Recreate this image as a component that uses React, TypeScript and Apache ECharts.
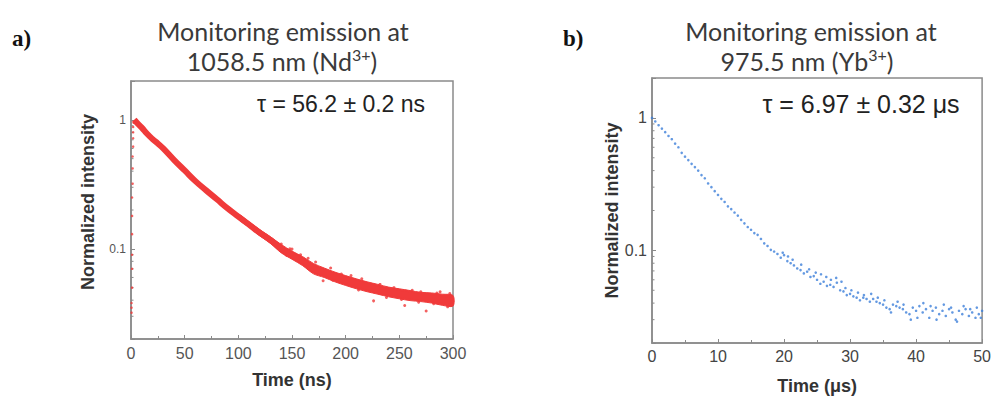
import React, { useEffect, useRef } from "react";
import * as echarts from "echarts";

// Panel a: Nd3+ decay (time in ns, normalized intensity)
const timeA = [3, 5, 10, 15, 20, 25, 30, 40, 50, 60, 70, 80, 90, 100, 110, 120, 130, 140, 150, 160, 170, 180, 190, 200, 210, 220, 230, 240, 250, 260, 270, 280, 290, 300];
const valA = [1.0, 0.96, 0.87, 0.78, 0.71, 0.655, 0.6, 0.49, 0.405, 0.335, 0.284, 0.242, 0.206, 0.178, 0.154, 0.133, 0.117, 0.1, 0.089, 0.08, 0.07, 0.0655, 0.0612, 0.0572, 0.054, 0.051, 0.048, 0.0464, 0.0449, 0.0434, 0.0423, 0.0414, 0.0404, 0.0395];
const timeEdgeA = [100, 110, 120, 130, 140, 150, 160, 170, 180, 190, 200, 210, 220, 230, 240, 250, 260, 270, 280, 290, 300];
const upperA = [0.186, 0.162, 0.141, 0.124, 0.108, 0.096, 0.087, 0.077, 0.071, 0.066, 0.062, 0.0585, 0.0555, 0.053, 0.0505, 0.049, 0.0475, 0.046, 0.0455, 0.0445, 0.0435];
const lowerA = [0.17, 0.147, 0.126, 0.11, 0.093, 0.083, 0.074, 0.064, 0.06, 0.0555, 0.052, 0.049, 0.0465, 0.0445, 0.0425, 0.041, 0.0397, 0.039, 0.038, 0.0365, 0.036];
const riseTimeA = [0.5, 0.5, 0.5, 1, 1, 1, 1, 1, 1, 1.5, 1.5, 1.5, 2, 2, 2, 2, 2.5];
const riseValA = [0.032, 0.035, 0.038, 0.05, 0.07, 0.09, 0.13, 0.18, 0.25, 0.32, 0.42, 0.52, 0.62, 0.72, 0.8, 0.88, 0.95];
const noiseTimeA = [140, 145, 148, 150, 158, 165, 168, 172, 179, 186, 188, 196, 205, 212, 215, 226, 232, 238, 245, 252, 255, 262, 268, 270, 275, 282, 285, 288, 295, 297];
const noiseValA = [0.109, 0.089, 0.1, 0.0995, 0.09, 0.0845, 0.068, 0.079, 0.0565, 0.071, 0.057, 0.0637, 0.062, 0.048, 0.0585, 0.0395, 0.053, 0.042, 0.05, 0.0405, 0.0364, 0.0478, 0.0385, 0.0465, 0.033, 0.0375, 0.0455, 0.0465, 0.0355, 0.045];

// Panel b: Yb3+ decay (time in µs)
const timeB = [0, 0.5, 1, 1.5, 2, 2.5, 3, 3.5, 4, 4.5, 5, 5.5, 6, 6.5, 7, 7.5, 8, 8.5, 9, 9.5, 10, 10.5, 11, 11.5, 12, 12.5, 13, 13.5, 14, 14.5, 15, 15.5, 16, 16.5, 17, 17.5, 18, 18.5, 19, 19.5, 20, 20.5, 21, 21.5, 22, 22.5, 23, 23.5, 24, 24.5, 25, 25.5, 26, 26.5, 27, 27.5, 28, 28.5, 29, 29.5, 30, 30.5, 31, 31.5, 32, 32.5, 33, 33.5, 34, 34.5, 35, 35.5, 36, 36.5, 37, 37.5, 38, 38.5, 39, 39.5, 40, 40.5, 41, 41.5, 42, 42.5, 43, 43.5, 44, 44.5, 45, 45.5, 46, 46.5, 47, 47.5, 48, 48.5, 49, 49.5, 50];
const valB = [1.0, 0.94, 0.88, 0.83, 0.78, 0.73, 0.69, 0.64, 0.6, 0.545, 0.51, 0.48, 0.45, 0.425, 0.4, 0.37, 0.35, 0.32, 0.3, 0.28, 0.262, 0.245, 0.232, 0.215, 0.205, 0.193, 0.183, 0.17, 0.16, 0.15, 0.143, 0.135, 0.131, 0.122, 0.113, 0.108, 0.101, 0.098, 0.094, 0.088, 0.092, 0.083, 0.08, 0.077, 0.073, 0.071, 0.067, 0.069, 0.063, 0.064, 0.06, 0.056, 0.058, 0.054, 0.055, 0.053, 0.057, 0.05, 0.049, 0.046, 0.047, 0.045, 0.044, 0.042, 0.044, 0.043, 0.041, 0.043, 0.041, 0.04, 0.039, 0.037, 0.036, 0.039, 0.038, 0.037, 0.036, 0.034, 0.033, 0.037, 0.035, 0.038, 0.034, 0.036, 0.031, 0.035, 0.037, 0.033, 0.035, 0.032, 0.036, 0.034, 0.03, 0.035, 0.033, 0.036, 0.032, 0.034, 0.031, 0.033, 0.035];
const extraTimeB = [19.8, 20.6, 21.3, 22.6, 23.8, 24.8, 25.6, 26.4, 27.1, 27.9, 28.7, 29.3, 30.2, 31.2, 32.1, 33.2, 34.2, 35.2, 36.2, 37.2, 38.1, 39.2, 40.2, 41.1, 42.2, 43.1, 44.2, 45.3, 46.2, 47.2, 48.2, 49.2, 49.8];
const extraValB = [0.096, 0.09, 0.085, 0.078, 0.072, 0.068, 0.066, 0.063, 0.06, 0.062, 0.058, 0.052, 0.05, 0.048, 0.046, 0.047, 0.044, 0.042, 0.034, 0.041, 0.039, 0.03, 0.031, 0.04, 0.038, 0.03, 0.039, 0.037, 0.029, 0.038, 0.036, 0.037, 0.031];

const yMajorLabels = ["0.1", "1"];
const yMinorValues = [0.03, 0.04, 0.05, 0.06, 0.07, 0.08, 0.09, 0.2, 0.3, 0.4, 0.5, 0.6, 0.7, 0.8, 0.9];

const zip = (xs: number[], ys: number[]) => xs.map((x, i) => [x, ys[i]]);

const RED = "#f03a3a";
const BLUE = "#3d7fd9";
const AXIS = "#8a8a8a";

const yLabelFmt = (v: number) => {
  for (const s of yMajorLabels) {
    if (Math.abs(v - parseFloat(s)) < 1e-6 * parseFloat(s)) return s;
  }
  return "";
};

export default function App() {
  const ref = useRef<HTMLDivElement>(null);
  useEffect(() => {
    if (!ref.current) return;
    const chart = echarts.init(ref.current, null, { renderer: "svg" });
    const titleStyle = {
      fontFamily: "Lato",
      fontSize: 25,
      fontWeight: "normal",
      color: "#3a3a3a",
      lineHeight: 29,
      rich: {
        sup: { fontSize: 16, verticalAlign: "top", lineHeight: 16, fontFamily: "Lato", color: "#3a3a3a" },
      },
    };
    const yAxisCommon = (gridIndex: number, labelSize: number, labelColor: string, gap: number, pad: number[]) => ({
      type: "log",
      logBase: 10,
      gridIndex,
      min: 0.02,
      max: 2,
      name: "Normalized intensity",
      nameLocation: "middle",
      nameGap: gap,
      nameTextStyle: { fontFamily: "Liberation Sans", fontWeight: "bold", fontSize: 18, color: "#333", padding: pad },
      axisLine: { show: true, lineStyle: { color: AXIS, width: 1.5 } },
      axisTick: { show: true, inside: true, length: 4, lineStyle: { color: AXIS } },
      axisLabel: { formatter: yLabelFmt, fontFamily: "Liberation Sans", fontSize: labelSize, color: labelColor, margin: 5 },
      splitLine: { show: false },
    });
    const xAxisCommon = (gridIndex: number, max: number, interval: number, name: string, gap: number, margin: number, color: string) => ({
      type: "value",
      gridIndex,
      min: 0,
      max,
      interval,
      name,
      nameLocation: "middle",
      nameGap: gap,
      nameTextStyle: { fontFamily: "Liberation Sans", fontWeight: "bold", fontSize: 18, color: "#333" },
      axisLine: { show: true, lineStyle: { color: AXIS, width: 1.5 } },
      axisTick: { show: true, inside: true, length: 4, lineStyle: { color: AXIS } },
      minorTick: { show: true, splitNumber: 2, length: 3, lineStyle: { color: AXIS } },
      axisLabel: { fontFamily: "Liberation Sans", fontSize: 16, color, margin },
      splitLine: { show: false },
      minorSplitLine: { show: false },
    });
    const option: any = {
      animation: false,
      backgroundColor: "#ffffff",
      title: [
        { text: "Monitoring emission at", left: 283, top: 16, textAlign: "center", padding: 0, textStyle: titleStyle },
        { text: "1058.5 nm (Nd{sup|3+})", left: 282, top: 46, textAlign: "center", padding: 0, textStyle: titleStyle },
        { text: "Monitoring emission at", left: 811, top: 16, textAlign: "center", padding: 0, textStyle: titleStyle },
        { text: "975.5 nm (Yb{sup|3+})", left: 807, top: 46, textAlign: "center", padding: 0, textStyle: titleStyle },
      ],
      grid: [
        { left: 131, top: 81, width: 322, height: 258, show: true, borderColor: AXIS, borderWidth: 1.5, backgroundColor: "transparent" },
        { left: 652, top: 78, width: 332, height: 269, show: true, borderColor: AXIS, borderWidth: 1.5, backgroundColor: "transparent" },
      ],
      xAxis: [
        xAxisCommon(0, 300, 50, "Time (ns)", 32, 6, "#555"),
        xAxisCommon(1, 50, 10, "Time (\u03bcs)", 34, 5, "#444"),
      ],
      yAxis: [
        yAxisCommon(0, 12, "#555", 34, [0, 0, 0, 16]),
        yAxisCommon(1, 16, "#444", 31, [0, 0, 0, 0]),
      ],
      series: [
        {
          type: "custom",
          xAxisIndex: 0,
          yAxisIndex: 0,
          silent: true,
          data: timeEdgeA.map((t, i) => [t, upperA[i], lowerA[i]]),
          encode: { x: 0, y: 1 },
          renderItem: (params: any, api: any) => {
            if (params.dataIndex !== 0) return null;
            const pts: number[][] = [];
            for (let i = 0; i < timeEdgeA.length; i++) pts.push(api.coord([timeEdgeA[i], upperA[i]]));
            for (let i = timeEdgeA.length - 1; i >= 0; i--) pts.push(api.coord([timeEdgeA[i], lowerA[i]]));
            return { type: "polygon", shape: { points: pts, smooth: 0.3 }, style: { fill: RED, stroke: RED, lineWidth: 1 } };
          },
        },
        { type: "line", xAxisIndex: 0, yAxisIndex: 0, data: zip(timeA, valA), showSymbol: false, smooth: true, lineStyle: { color: RED, width: 6 }, silent: true },
        { type: "scatter", xAxisIndex: 0, yAxisIndex: 0, data: zip(riseTimeA, riseValA), symbolSize: 2.5, itemStyle: { color: RED }, silent: true },
        { type: "scatter", xAxisIndex: 0, yAxisIndex: 0, data: zip(noiseTimeA, noiseValA), symbolSize: 3, itemStyle: { color: RED }, silent: true },
        { type: "scatter", xAxisIndex: 1, yAxisIndex: 1, data: zip(timeB, valB), symbolSize: 2.6, itemStyle: { color: BLUE }, silent: true },
        { type: "scatter", xAxisIndex: 1, yAxisIndex: 1, data: zip(extraTimeB, extraValB), symbolSize: 2.6, itemStyle: { color: BLUE }, silent: true },
      ],
    };
    chart.setOption(option);

    const minor: any[] = [];
    [0, 1].forEach((gi) => {
      yMinorValues.forEach((v) => {
        const p = chart.convertToPixel({ xAxisIndex: gi, yAxisIndex: gi }, [0, v]) as number[];
        if (p) {
          minor.push({ type: "line", silent: true, shape: { x1: p[0], y1: p[1], x2: p[0] + 2.5, y2: p[1] }, style: { stroke: AXIS, lineWidth: 1 } });
        }
      });
    });
    chart.setOption({
      graphic: [
        ...minor,
        { type: "text", left: 12, top: 27, style: { text: "a)", font: "bold 23px 'Liberation Serif'", fill: "#111" } },
        { type: "text", left: 563, top: 27, style: { text: "b)", font: "bold 23px 'Liberation Serif'", fill: "#111" } },
        { type: "text", x: 341, y: 104, style: { text: "\u03c4 = 56.2 \u00b1 0.2 ns", font: "23px 'Liberation Sans'", fill: "#222", align: "center", verticalAlign: "middle" } },
        { type: "text", x: 861, y: 104, style: { text: "\u03c4 = 6.97 \u00b1 0.32 \u03bcs", font: "25px 'Liberation Sans'", fill: "#222", align: "center", verticalAlign: "middle" } },
      ],
    });
    return () => chart.dispose();
  }, []);
  return <div ref={ref} style={{ position: "fixed", left: 0, top: 0, width: 994, height: 400 }} />;
}
